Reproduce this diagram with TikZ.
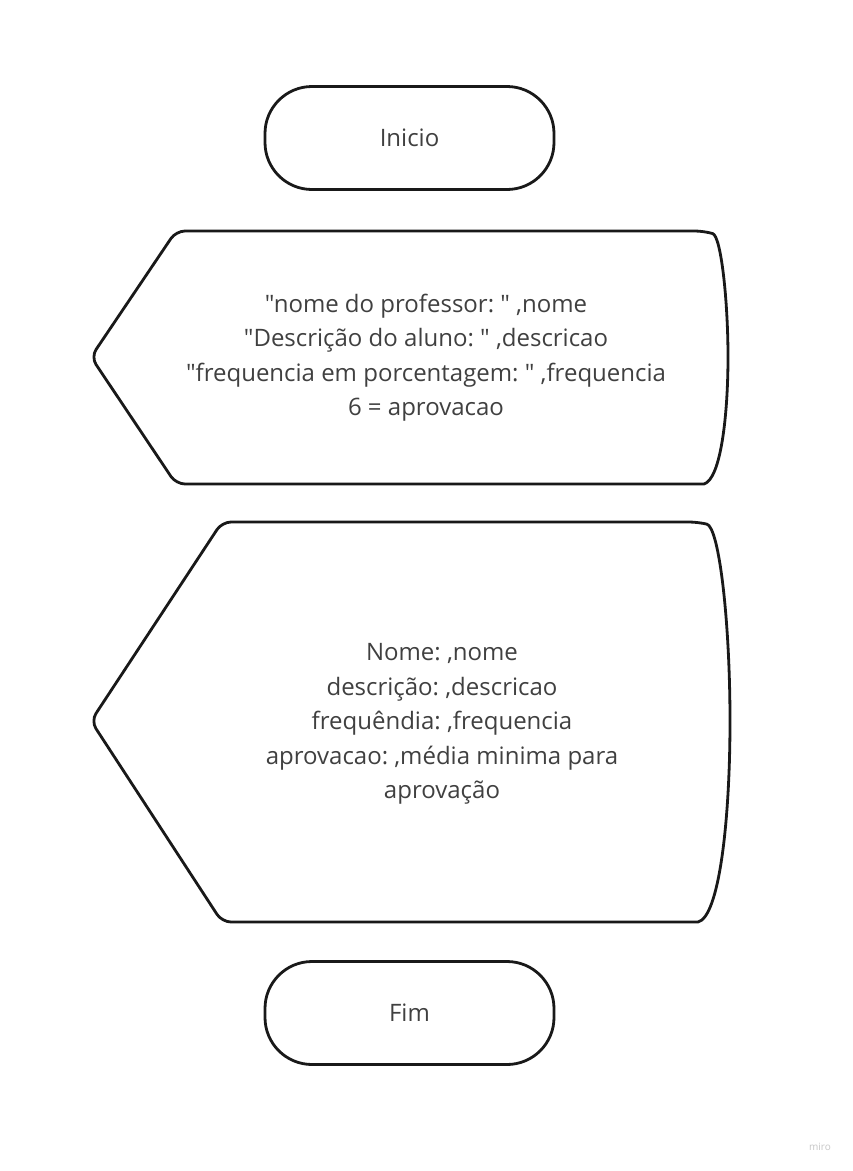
\documentclass[tikz,border=0pt]{standalone}
\usepackage{fontspec}
\setmainfont{Open Sans}[Ligatures=TeXOff]
\begin{document}
\frenchspacing
\begin{tikzpicture}[x=1pt,y=-1pt,
  shapeline/.style={draw=black!90, line width=2.8pt, line join=round, fill=white},
  term/.style={shapeline, rectangle, rounded corners=47pt, minimum width=289pt, minimum height=103pt, inner sep=0pt,
    text=black!75, font=\fontsize{24}{34.5}\selectfont},
  txt/.style={align=center, text=black!75, font=\fontsize{24}{34.5}\selectfont, inner sep=0pt}]
\useasboundingbox (0,0) rectangle (853,1171);
\fill[white] (0,0) rectangle (853,1171);

\node[term] (inicio) at (409.5,138) {Inicio};

\draw[shapeline, rounded corners=9pt] (91,357) -- (176,231) -- (704,231)
  [rounded corners=0pt] .. controls (721,236) and (728,300) .. (728,357)
  .. controls (728,414) and (721,479) .. (704,484) [rounded corners=9pt] -- (176,484) -- cycle;
\node[txt] (disp1) at (426,357.5) {"nome do professor: " ,nome\\"Descrição do aluno: " ,descricao\\"frequencia em porcentagem: " ,frequencia\\6 = aprovacao};

\draw[shapeline, rounded corners=9pt] (91,721) -- (222,522) -- (698,522)
  [rounded corners=0pt] .. controls (719,527) and (730,620) .. (730,721)
  .. controls (730,822) and (719,917) .. (698,922) [rounded corners=9pt] -- (222,922) -- cycle;
\node[txt] (disp2) at (442,724) {Nome: ,nome\\descrição: ,descricao\\frequêndia: ,frequencia\\aprovacao: ,média minima para\\aprovação};

\node[term] (fim) at (409.5,1013) {Fim};

\node[text=black!22, font=\fontsize{10}{12}\selectfont, inner sep=0pt] (miro) at (820,1147) {miro};
\end{tikzpicture}
\end{document}
